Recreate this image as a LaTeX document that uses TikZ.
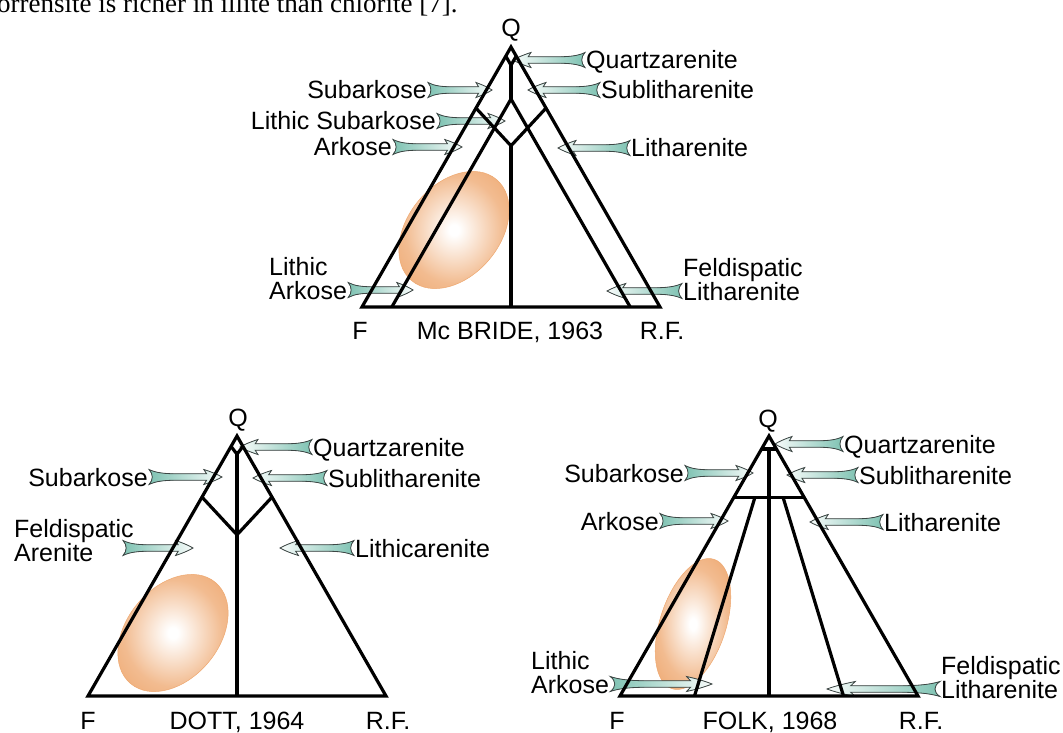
\documentclass[tikz,border=0pt]{standalone}
\usepackage{fontspec}
\setmainfont{Liberation Sans}
\newfontfamily\capfont{Liberation Serif}
\usepackage{tikz}
\usetikzlibrary{calc}

\definecolor{fishteal}{RGB}{126,194,178}
\definecolor{fishedge}{RGB}{60,70,68}
\definecolor{eggorange}{RGB}{234,146,76}

\pgfdeclareradialshading{eggshade}{\pgfpoint{0bp}{0bp}}{color(0bp)=(white); color(2bp)=(white); color(20bp)=(eggorange!62); color(40bp)=(eggorange!92); color(50bp)=(eggorange)}

\newcommand{\fishar}[2]{%
  \path (#1); \pgfgetlastxy{\fax}{\fay}%
  \path (#2); \pgfgetlastxy{\fbx}{\fby}%
  \pgfmathsetmacro{\falen}{\fbx-\fax}%
  \ifdim\falen pt<0pt \def\fadir{fishleft}\else\def\fadir{fishright}\fi
  \begin{scope}[shift={(\fax,\fay)}, xscale=\falen/100]
    \filldraw[fishy,\fadir] (0,7.5) .. controls (10,4) and (22,3.2) .. (40,3.2) -- (79,3.2) -- (75,7.5)
      .. controls (86,5) and (94,2.5) .. (100,0) .. controls (94,-2.5) and (86,-5) .. (75,-7.5)
      -- (79,-3.2) -- (40,-3.2) .. controls (22,-3.2) and (10,-4) .. (0,-7.5)
      .. controls (6,-3) and (6,3) .. (0,7.5) -- cycle;
  \end{scope}}

\begin{document}
\begin{tikzpicture}[x=1pt,y=-1pt]
 \tikzstyle{lbl} = [font=\fontsize{25}{25}\selectfont, inner sep=1pt, text height=18pt, text depth=0pt];
 \tikzstyle{edge} = [line width=3.2pt, line join=miter];
 \tikzstyle{fishy} = [draw=fishedge, line width=0.8pt];
 \tikzstyle{fishright} = [left color=fishteal, right color=white!94!fishteal];
 \tikzstyle{fishleft} = [left color=white!94!fishteal, right color=fishteal];
 \tikzstyle{egg} = [shading=eggshade, draw=eggorange!80, line width=0.5pt];

 \useasboundingbox (0,0) rectangle (1063,733);
 \node[anchor=base west, inner sep=0pt, font=\capfont\fontsize{27}{27}\selectfont, name=cap] at (-3,13)
   {orrensite is richer in illite than chlorite [7].};

 % Mc Bride 1963
 \coordinate (q1) at (511,47);
 \coordinate (f1) at (362,307);
 \coordinate (r1) at (660,307);
 \coordinate (m1) at ($(f1)!0.5!(r1)$);

 \shade[egg, rotate around={50:(454,230)}] (454,230) ellipse (66 and 46);

 \node[lbl,name=qq1] at (511,28) {Q};
 \node[lbl,name=qz1,anchor=west] at (585,60) {Quartzarenite};
 \node[lbl,name=sl1,anchor=west] at (600,90) {Sublitharenite};
 \node[lbl,name=lt1,anchor=west] at (630,148) {Litharenite};
 \node[lbl,name=sa1,anchor=east] at (428,90) {Subarkose};
 \node[lbl,name=ls1,anchor=east] at (437,121) {Lithic Subarkose};
 \node[lbl,name=ak1,anchor=east] at (393,147) {Arkose};
 \node[lbl,name=la1,anchor=west] at (268,266) {Lithic};
 \node[lbl,name=lb1,anchor=west] at (268,290) {Arkose};
 \node[lbl,name=fl1,anchor=west] at (682,267) {Feldispatic};
 \node[lbl,name=fm1,anchor=west] at (682,291) {Litharenite};
 \node[lbl,name=ff1] at (360,330) {F};
 \node[lbl,name=tt1] at (510,330) {Mc BRIDE, 1963};
 \node[lbl,name=rf1] at (662,330) {R.F.};

 \coordinate (qz1t) at (513,60);
 \coordinate (sl1t) at (528,90);
 \coordinate (lt1t) at (558,148);
 \coordinate (sa1t) at (492,90);
 \coordinate (ls1t) at (505,122);
 \coordinate (ak1t) at (462,147);
 \coordinate (lb1t) at (413,290);
 \coordinate (fm1t) at (607,290);
 \fishar{qz1.west}{qz1t}
 \fishar{sl1.west}{sl1t}
 \fishar{lt1.west}{lt1t}
 \fishar{sa1.east}{sa1t}
 \fishar{ls1.east}{ls1t}
 \fishar{ak1.east}{ak1t}
 \fishar{lb1.east}{lb1t}
 \fishar{fm1.west}{fm1t}

 \draw[edge] (q1) -- (f1) -- (r1) -- cycle;
 \draw[edge] ($(q1)!0.035!(f1)$) -- ($(q1)!0.07!(m1)$) -- ($(q1)!0.035!(r1)$);
 \draw[edge] ($(q1)!0.07!(m1)$) -- ($(q1)!0.2!(m1)$);
 \draw[edge] ($(f1)!0.1!(r1)$) -- ($(q1)!0.2!(m1)$) -- ($(f1)!0.9!(r1)$);
 \draw[edge] ($(q1)!0.235!(f1)$) -- ($(q1)!0.38!(m1)$) -- ($(q1)!0.235!(r1)$);
 \draw[edge] ($(q1)!0.38!(m1)$) -- (m1);

 % Dott 1964
 \coordinate (q2) at (237,436);
 \coordinate (f2) at (88,696);
 \coordinate (r2) at (386,696);
 \coordinate (m2) at ($(f2)!0.5!(r2)$);

 \shade[egg, rotate around={50:(173,633)}] (173,633) ellipse (66 and 46);

 \node[lbl,name=qq2] at (238,417) {Q};
 \node[lbl,name=qz2,anchor=west] at (312,447) {Quartzarenite};
 \node[lbl,name=sl2,anchor=west] at (327,478) {Sublitharenite};
 \node[lbl,name=lc2,anchor=west] at (354,548) {Lithicarenite};
 \node[lbl,name=sa2,anchor=east] at (149,477) {Subarkose};
 \node[lbl,name=fe2,anchor=west] at (13,528) {Feldispatic};
 \node[lbl,name=ar2,anchor=west] at (13,552) {Arenite};
 \node[lbl,name=ff2] at (88,720) {F};
 \node[lbl,name=tt2] at (237,720) {DOTT, 1964};
 \node[lbl,name=rf2] at (388,720) {R.F.};

 \coordinate (qz2t) at (240,448);
 \coordinate (sl2t) at (253,478);
 \coordinate (lc2t) at (280,548);
 \coordinate (sa2t) at (222,478);
 \coordinate (ar2s) at (123,548);
 \coordinate (ar2t) at (193,548);
 \fishar{qz2.west}{qz2t}
 \fishar{sl2.west}{sl2t}
 \fishar{lc2.west}{lc2t}
 \fishar{sa2.east}{sa2t}
 \fishar{ar2s}{ar2t}

 \draw[edge] (q2) -- (f2) -- (r2) -- cycle;
 \draw[edge] ($(q2)!0.04!(f2)$) -- ($(q2)!0.07!(m2)$) -- ($(q2)!0.04!(r2)$);
 \draw[edge] ($(q2)!0.07!(m2)$) -- (m2);
 \draw[edge] ($(q2)!0.235!(f2)$) -- ($(q2)!0.38!(m2)$) -- ($(q2)!0.235!(r2)$);

 % Folk 1968
 \coordinate (q3) at (769,436);
 \coordinate (f3) at (620,696);
 \coordinate (r3) at (918,696);
 \coordinate (m3) at ($(f3)!0.5!(r3)$);
 \coordinate (a3) at ($(f3)!0.25!(r3)$);
 \coordinate (b3) at ($(f3)!0.75!(r3)$);
 \coordinate (c3) at ($(q3)!0.235!(m3)$);

 \shade[egg, rotate around={72:(693,624)}] (693,624) ellipse (68 and 33);

 \node[lbl,name=qq3] at (768,418) {Q};
 \node[lbl,name=qz3,anchor=west] at (843,444) {Quartzarenite};
 \node[lbl,name=sl3,anchor=west] at (858,475) {Sublitharenite};
 \node[lbl,name=lt3,anchor=west] at (883,522) {Litharenite};
 \node[lbl,name=sa3,anchor=east] at (685,473) {Subarkose};
 \node[lbl,name=ak3,anchor=east] at (660,521) {Arkose};
 \node[lbl,name=la3,anchor=west] at (530,660) {Lithic};
 \node[lbl,name=lb3,anchor=west] at (530,684) {Arkose};
 \node[lbl,name=fl3,anchor=west] at (940,665) {Feldispatic};
 \node[lbl,name=fm3,anchor=west] at (940,689) {Litharenite};
 \node[lbl,name=ff3] at (617,720) {F};
 \node[lbl,name=tt3] at (770,720) {FOLK, 1968};
 \node[lbl,name=rf3] at (921,720) {R.F.};

 \coordinate (qz3t) at (775,445);
 \coordinate (sl3t) at (787,475);
 \coordinate (lt3t) at (810,522);
 \coordinate (sa3t) at (753,473);
 \coordinate (ak3t) at (728,521);
 \coordinate (lb3t) at (712,685);
 \coordinate (fm3t) at (827,687);
 \fishar{qz3.west}{qz3t}
 \fishar{sl3.west}{sl3t}
 \fishar{lt3.west}{lt3t}
 \fishar{sa3.east}{sa3t}
 \fishar{ak3.east}{ak3t}
 \fishar{lb3.east}{lb3t}
 \fishar{fm3.west}{fm3t}

 \draw[edge] (q3) -- (f3) -- (r3) -- cycle;
 \draw[edge] ($(q3)!0.05!(f3)$) -- ($(q3)!0.05!(r3)$);
 \draw[edge] ($(q3)!0.05!(m3)$) -- (m3);
 \draw[edge] ($(q3)!0.235!(f3)$) -- ($(q3)!0.235!(r3)$);
 \draw[edge] ([xshift=-14pt]c3) -- (a3);
 \draw[edge] ([xshift=14pt]c3) -- (b3);
\end{tikzpicture}
\end{document}
